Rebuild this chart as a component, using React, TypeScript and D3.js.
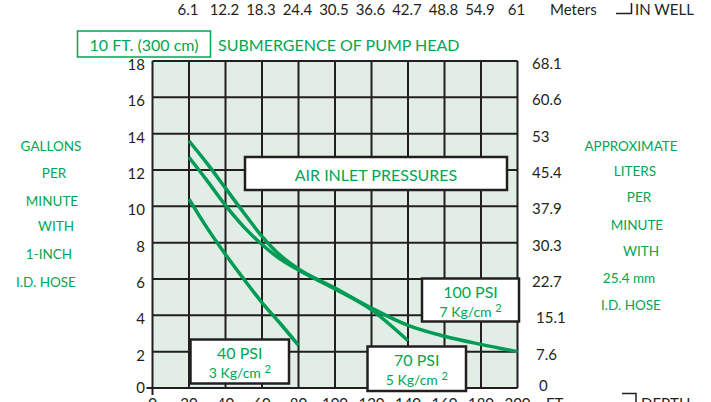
import * as React from 'react';
import * as d3 from 'd3';

// axis ticks and labels
const depthTicks = [0, 20, 40, 60, 80, 100, 120, 140, 160, 180, 200];
const gpmTicks = [0, 2, 4, 6, 8, 10, 12, 14, 16, 18];
const lpmLabels = ['0', '7.6', '15.1', '22.7', '30.3', '37.9', '45.4', '53', '60.6', '68.1'];
const meterLabels = ['6.1', '12.2', '18.3', '24.4', '30.5', '36.6', '42.7', '48.8', '54.9', '61'];
const leftTitle = ['GALLONS', 'PER', 'MINUTE', 'WITH', '1-INCH', 'I.D. HOSE'];
const rightTitle = ['APPROXIMATE', 'LITERS', 'PER', 'MINUTE', 'WITH', '25.4 mm', 'I.D. HOSE'];

// curves: depth (ft) vs flow (gpm)
const depth40 = [20, 30, 40, 50, 60, 70, 80];
const flow40 = [10.4, 8.8, 7.35, 6.0, 4.7, 3.55, 2.35];
const depth70 = [20, 30, 40, 50, 60, 70, 80, 100, 120, 140];
const flow70 = [12.7, 11.4, 10.05, 8.87, 7.9, 7.1, 6.5, 5.45, 4.3, 2.6];
const depth100 = [20, 30, 40, 50, 60, 70, 80, 100, 120, 140, 160, 180, 200];
const flow100 = [13.6, 12.35, 11.0, 9.65, 8.35, 7.3, 6.55, 5.5, 4.4, 3.45, 2.85, 2.4, 2.0];

const GRID = '#231f20';
const BG = '#e2eee5';
const LINE = '#009b55';
const TXT = '#00a651';
const FONT = 'Lato, "Open Sans", sans-serif';

function toPoints(xs: number[], ys: number[]): [number, number][] {
  return xs.map((x, i) => [x, ys[i]]);
}

function PsiBox({ x0, y0, x1, y1, psi, kg }: { x0: number; y0: number; x1: number; y1: number; psi: string; kg: string }) {
  const cx = (x0 + x1) / 2;
  return (
    <g>
      <rect x={x0} y={y0} width={x1 - x0} height={y1 - y0} fill="#fff" stroke={GRID} strokeWidth={2.5} />
      <text x={cx} y={y0 + 13} textAnchor="middle" dominantBaseline="central" fontSize={16} fill={TXT}>{psi}</text>
      <text x={cx} y={y0 + 33} textAnchor="middle" dominantBaseline="central" fontSize={14} fill={TXT}>
        {kg + ' '}
        <tspan fontSize={11} dy={-5}>2</tspan>
      </text>
    </g>
  );
}

export default function App() {
  const width = 711;
  const height = 402;

  const x = d3.scaleLinear().domain([0, 200]).range([152.5, 517.5]);
  const y = d3.scaleLinear().domain([0, 18]).range([388, 61]);

  const line = d3
    .line<[number, number]>()
    .x((d) => x(d[0]))
    .y((d) => y(d[1]))
    .curve(d3.curveMonotoneX);

  const series = [
    toPoints(depth40, flow40),
    toPoints(depth70, flow70),
    toPoints(depth100, flow100),
  ];

  return (
    <svg
      width={width}
      height={height}
      style={{ position: 'absolute', left: 0, top: 0, background: '#fff' }}
      fontFamily={FONT}
    >
      {/* plot background */}
      <rect x={x(0)} y={y(18)} width={x(200) - x(0)} height={y(0) - y(18)} fill={BG} />

      {/* grid */}
      {depthTicks.map((t) => (
        <line key={'v' + t} x1={x(t)} x2={x(t)} y1={y(0)} y2={y(18)} stroke={GRID} strokeWidth={2} />
      ))}
      {gpmTicks.map((t) => (
        <line key={'h' + t} x1={x(0)} x2={x(200)} y1={y(t)} y2={y(t)} stroke={GRID} strokeWidth={2} />
      ))}
      {/* origin ticks */}
      <line x1={x(0) - 6} x2={x(0)} y1={y(0)} y2={y(0)} stroke={GRID} strokeWidth={2} />
      <line x1={x(0)} x2={x(0)} y1={y(0)} y2={y(0) + 7} stroke={GRID} strokeWidth={2} />

      {/* curves */}
      {series.map((s, i) => (
        <path key={i} d={line(s) || ''} fill="none" stroke={LINE} strokeWidth={3.5} strokeLinecap="butt" />
      ))}

      {/* left gpm ticks */}
      {gpmTicks.map((t) => (
        <text key={'gl' + t} x={145} y={y(t) + (t === 0 ? -1 : 3)} textAnchor="end" dominantBaseline="central" fontSize={15} fill={GRID}>
          {t}
        </text>
      ))}
      {/* right lpm labels */}
      {gpmTicks.map((t, i) => (
        <text key={'lr' + t} x={t === 0 ? 539 : t <= 4 ? 536 : 532} y={y(t) + (t === 0 ? -3 : 2)} dominantBaseline="central" fontSize={15} fill={GRID}>
          {lpmLabels[i]}
        </text>
      ))}
      {/* bottom depth ticks */}
      {depthTicks.map((t) => (
        <text key={'db' + t} x={x(t)} y={409} textAnchor="middle" fontSize={15} fill={GRID}>
          {t}
        </text>
      ))}
      <text x={546} y={409} fontSize={15} fill={GRID}>FT.</text>
      <path d="M622,393.5 H636 V402" fill="none" stroke={GRID} strokeWidth={1.5} />
      <text x={641} y={409} fontSize={15} fill={GRID}>DEPTH</text>

      {/* top meter labels */}
      {depthTicks.slice(1).map((t, i) => (
        <text key={'mt' + t} x={x(t) - 1} y={9} textAnchor="middle" dominantBaseline="central" fontSize={15} fill={GRID}>
          {meterLabels[i]}
        </text>
      ))}
      <text x={550} y={9} dominantBaseline="central" fontSize={15} fill={GRID}>Meters</text>
      <path d="M616,13.5 H631.5 V3" fill="none" stroke={GRID} strokeWidth={1.5} />
      <text x={635} y={9} dominantBaseline="central" fontSize={15} fill={GRID}>IN WELL</text>

      {/* submergence title */}
      <rect x={77.5} y={31} width={133} height={26} fill="#fff" stroke={TXT} strokeWidth={1.5} />
      <text x={144} y={44.5} textAnchor="middle" dominantBaseline="central" fontSize={16} fill={TXT}>
        10 FT. (300 cm)
      </text>
      <text x={218} y={44.5} dominantBaseline="central" fontSize={16} fill={TXT}>
        SUBMERGENCE OF PUMP HEAD
      </text>

      {/* side titles */}
      {leftTitle.map((s, i) => (
        <text key={'lt' + i} x={[51, 54, 52, 56, 49, 46][i]} y={[146, 173, 200.5, 226, 254, 282][i]} textAnchor="middle" dominantBaseline="central" fontSize={13.5} fill={TXT}>
          {s}
        </text>
      ))}
      {rightTitle.map((s, i) => (
        <text key={'rt' + i} x={[631, 635, 639, 637, 641, 629, 631][i]} y={[146, 171, 197, 225, 251, 278, 305][i]} textAnchor="middle" dominantBaseline="central" fontSize={13.5} fill={TXT}>
          {s}
        </text>
      ))}

      {/* air inlet pressures box */}
      <rect x={245} y={157} width={262} height={33} fill="#fff" stroke={GRID} strokeWidth={2.5} />
      <text x={376} y={174} textAnchor="middle" dominantBaseline="central" fontSize={16} fill={TXT}>
        AIR INLET PRESSURES
      </text>

      <PsiBox x0={422} y0={278.5} x1={519} y1={321.5} psi="100 PSI" kg="7 Kg/cm" />
      <PsiBox x0={367.5} y0={346.5} x1={466} y1={391} psi="70 PSI" kg="5 Kg/cm" />
      <PsiBox x0={190.5} y0={339.5} x1={289} y1={383.5} psi="40 PSI" kg="3 Kg/cm" />
    </svg>
  );
}
